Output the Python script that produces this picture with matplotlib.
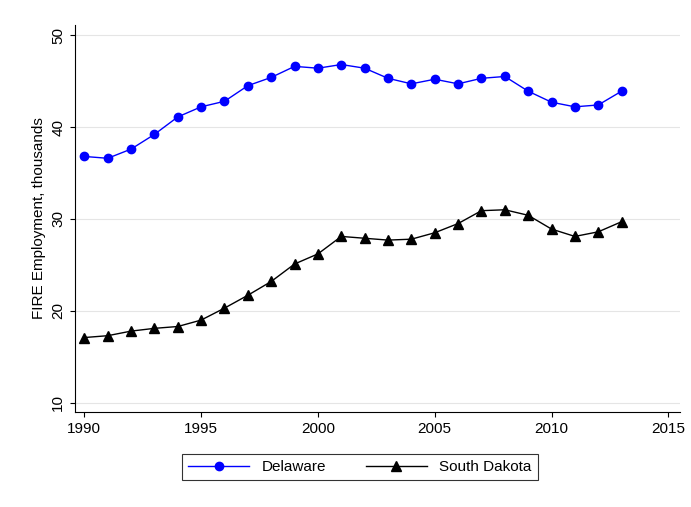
import matplotlib
matplotlib.use('Agg')
import matplotlib.pyplot as plt

years = list(range(1990, 2014))
delaware = [36.8, 36.6, 37.6, 39.2, 41.1, 42.2, 42.8, 44.5, 45.4, 46.6, 46.4, 46.8,
            46.4, 45.3, 44.7, 45.2, 44.7, 45.3, 45.5, 43.9, 42.7, 42.2, 42.4, 43.9]
south_dakota = [17.1, 17.3, 17.8, 18.1, 18.3, 19.0, 20.3, 21.7, 23.2, 25.1, 26.2, 28.1,
                27.9, 27.7, 27.8, 28.5, 29.5, 30.9, 31.0, 30.4, 28.9, 28.1, 28.6, 29.7]

plt.rcParams['font.family'] = ['Liberation Sans', 'DejaVu Sans']
fig = plt.figure(figsize=(6.91, 5.07), dpi=100)
ax = fig.add_axes([75/691, 1-412/507, 605/691, 387/507])

ax.plot(years, delaware, color='#0000ff', marker='o', markersize=6, lw=1, label='Delaware')
ax.plot(years, south_dakota, color='black', marker='^', markersize=7, lw=1, label='South Dakota')

ax.set_xlim(1989.6, 2015.5)
ax.set_ylim(9.0, 51.1)
ax.set_xticks([1990, 1995, 2000, 2005, 2010, 2015])
ax.set_yticks([10, 20, 30, 40, 50])
ax.set_yticklabels(['10', '20', '30', '40', '50'], rotation=90, va='center')
ax.grid(axis='y', color='#e5e5e5', lw=0.8)
ax.set_axisbelow(True)
ax.set_ylabel('FIRE Employment, thousands', fontsize=11)
ax.tick_params(labelsize=11)
for s in ['top', 'right']:
    ax.spines[s].set_visible(False)

leg = fig.legend(loc='center', bbox_to_anchor=(0.521, 1-467/507), ncol=2, frameon=True,
                 fancybox=False, edgecolor='black', fontsize=11, handlelength=4,
                 columnspacing=2.6)
leg.get_frame().set_linewidth(0.8)

fig.savefig('out.png', dpi=100)
